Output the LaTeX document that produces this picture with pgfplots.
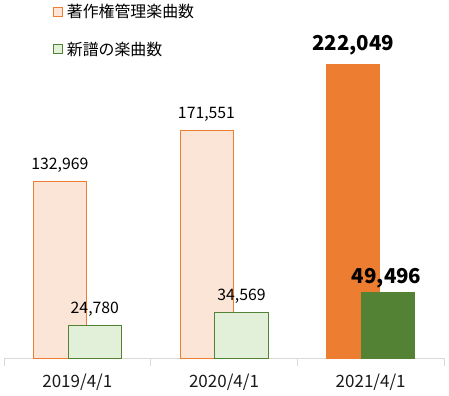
\documentclass[border=0pt]{standalone}
\usepackage{fontspec}
\setmainfont{Noto Sans CJK JP}
\usepackage{pgfplots}
\pgfplotsset{compat=1.18}
\definecolor{peach}{HTML}{FBE5D6}
\definecolor{orng}{HTML}{ED7D31}
\definecolor{lgreen}{HTML}{E2F0D9}
\definecolor{dgreen}{HTML}{548235}
\definecolor{axgray}{HTML}{D9D9D9}
\begin{document}
\begin{tikzpicture}
\useasboundingbox (0,0) rectangle (449bp,396bp);
\begin{axis}[
 at={(4bp,38bp)}, anchor=south west,
 scale only axis, width=440bp, height=320bp,
 xmin=-0.5, xmax=2.5, ymin=0, ymax=241700,
 axis x line*=bottom, axis y line=none,
 x axis line style={draw=axgray, line width=1bp, -},
 xtick={0,1,2}, xticklabels={2019/4/1,2020/4/1,2021/4/1},
 major tick length=0pt,
 extra x ticks={-0.5,0.5,1.5,2.5}, extra x tick labels={},
 extra x tick style={major tick length=8bp, tick align=outside, tick style={draw=axgray, line width=1bp}},
 xticklabel style={font=\fontsize{17bp}{20bp}\selectfont, text=black!90, anchor=base, yshift=-29bp},
 clip=false,
 point meta=explicit symbolic,
 legend style={at={(0.112,1.11)}, anchor=north west, draw=none, fill=none,
   font=\fontsize{15.9bp}{18bp}\selectfont, row sep=21bp, inner sep=0pt,
   nodes={inner sep=1bp}},
 legend cell align=left,
 legend image code/.code={\draw[#1, line width=0.8bp] (0bp,-4.5bp) rectangle (9bp,4.5bp); \path[draw=none, fill=none] (0bp,0bp) -- (12bp,0bp);},
]
\addplot[ybar, bar width=0.3614, bar shift=-0.1193, fill=peach, draw=orng, line width=1bp,
  nodes near coords, every node near coord/.append style={font=\fontsize{15.8bp}{18bp}\selectfont, text=black, anchor=base, yshift=12bp, xshift=-17.5bp}]
  coordinates {(0,132969) [132{,}969] (1,171551) [171{,}551]};
\addplot[ybar, bar width=0.3614, bar shift=0.1193, fill=lgreen, draw=dgreen, line width=1bp,
  nodes near coords, every node near coord/.append style={font=\fontsize{15.8bp}{18bp}\selectfont, text=black, anchor=base, yshift=12bp, xshift=17.5bp}]
  coordinates {(0,24780) [24{,}780] (1,34569) [34{,}569]};
\addplot[ybar, bar width=0.3614, bar shift=-0.1193, fill=orng, draw=orng, line width=0.5bp,
  nodes near coords, every node near coord/.append style={font=\bfseries\fontsize{20.5bp}{24bp}\selectfont, text=black, anchor=base, yshift=14bp, xshift=-17.5bp}]
  coordinates {(2,222049) [222{,}049]};
\addplot[ybar, bar width=0.3614, bar shift=0.1193, fill=dgreen, draw=dgreen, line width=0.5bp,
  nodes near coords, every node near coord/.append style={font=\bfseries\fontsize{20.5bp}{24bp}\selectfont, text=black, anchor=base, yshift=9bp, xshift=16bp}]
  coordinates {(2,49496) [49{,}496]};
\legend{著作権管理楽曲数, 新譜の楽曲数}
\end{axis}
\end{tikzpicture}
\end{document}
